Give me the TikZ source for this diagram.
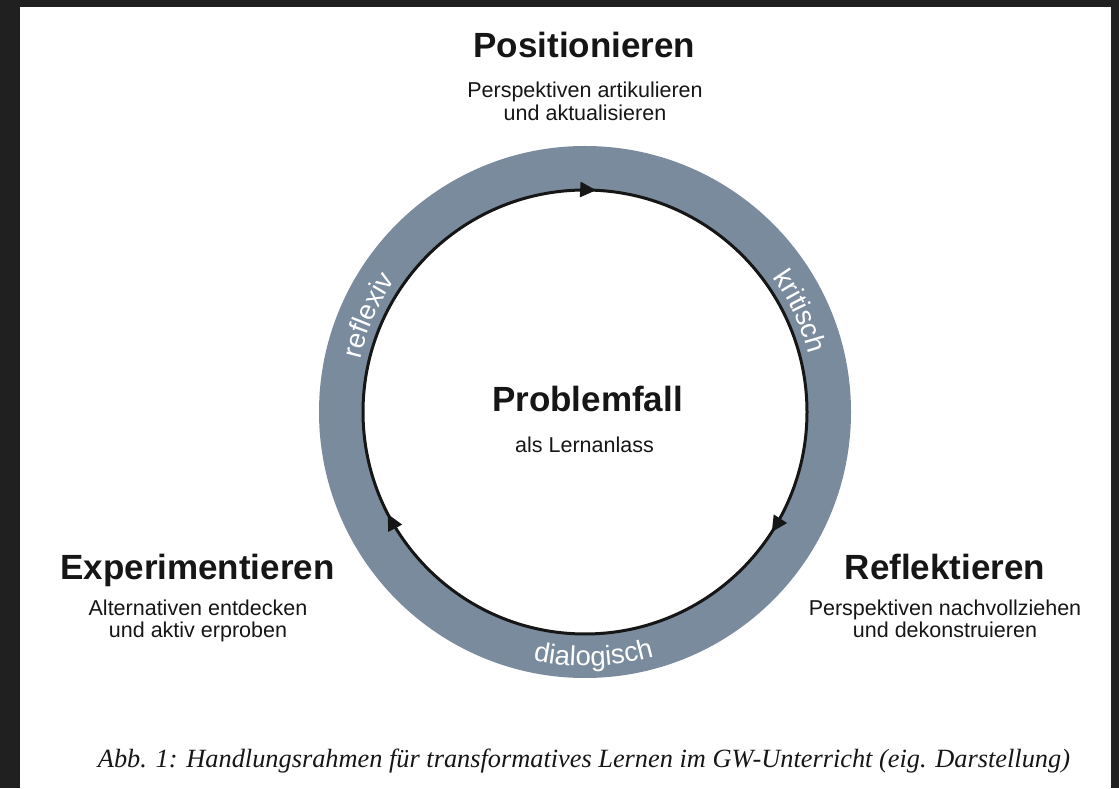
\documentclass[tikz,border=0pt]{standalone}
\usepackage{fontspec}
\usepackage{graphicx}
\setmainfont{Liberation Sans}
\newfontfamily\capfont{Liberation Serif}
\usetikzlibrary{decorations.text,decorations.markings,arrows.meta}
\definecolor{ringgray}{HTML}{7B8B9E}
\definecolor{framegray}{HTML}{202020}
\definecolor{ink}{HTML}{161616}
\newcommand\ringtxt{\fontsize{27.5pt}{27.5pt}\selectfont}
\begin{document}
\begin{tikzpicture}[x=1pt,y=1pt,
  titletext/.style={font=\fontsize{35pt}{35pt}\selectfont\bfseries, text=ink, inner sep=0pt, anchor=base},
  subtext/.style={font=\fontsize{21.5pt}{21.5pt}\selectfont, text=ink, inner sep=0pt, anchor=base},
  ringlabel/.style={decorate, decoration={text along path, text align=center, text color=white}}
]
\useasboundingbox (0,0) rectangle (1119,788);
\fill[framegray] (0,0) rectangle (1119,788);
\fill[white] (20,0) rectangle (1111,781);
\coordinate (C) at (585,376);
% ring
\draw[ringgray, line width=44pt] (C) circle[radius=244];
% inner cycle line with arrows
\draw[ink, line width=3pt, postaction={decorate},
  decoration={markings,
    mark=at position 0.008 with {\arrow{Triangle[length=16pt,width=15pt]}},
    mark=at position 0.341 with {\arrow{Triangle[length=16pt,width=15pt]}},
    mark=at position 0.674 with {\arrow{Triangle[length=16pt,width=15pt]}}}]
  ([shift={(90:222)}]C) arc[start angle=90, end angle=-270, radius=222];
% ring labels
\path[ringlabel, decoration={text={|\ringtxt|reflexiv}}]
  ([shift={(196:231)}]C) arc[start angle=196, end angle=116, radius=231];
\path[ringlabel, decoration={text={|\ringtxt|kritisch}}]
  ([shift={(65:231)}]C) arc[start angle=65, end angle=-15, radius=231];
\path[ringlabel, decoration={text={|\ringtxt|dialogisch}}]
  ([shift={(-133:254)}]C) arc[start angle=-133, end angle=-43, radius=254];
% texts
\node[titletext] (pos) at (584.5,730) {Positionieren};
\node[subtext] (pos1) at (585,690) {Perspektiven artikulieren};
\node[subtext] (pos2) at (585,667) {und aktualisieren};
\node[titletext] (prob) at (587.5,376) {Problemfall};
\node[subtext] (prob1) at (584.5,335) {als Lernanlass};
\node[titletext] (exp) at (197.5,209) {Experimentieren};
\node[subtext] (exp1) at (198,173) {Alternativen entdecken};
\node[subtext] (exp2) at (198,151) {und aktiv erproben};
\node[titletext] (ref) at (945,209) {Reflektieren};
\node[subtext] (ref1) at (945,173) {Perspektiven nachvollziehen};
\node[subtext] (ref2) at (945,151) {und dekonstruieren};
\node[anchor=base, inner sep=0pt, text=ink] (cap) at (584,21)
  {\resizebox{972pt}{!}{\capfont\itshape Abb. 1: Handlungsrahmen für transformatives Lernen im GW-Unterricht (eig. Darstellung)}};
\end{tikzpicture}
\end{document}
